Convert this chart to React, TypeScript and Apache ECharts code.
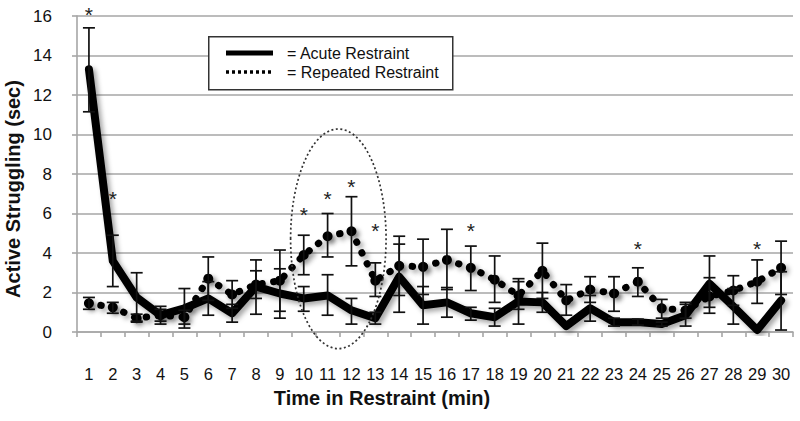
import React, { useEffect, useRef } from "react";
import * as echarts from "echarts";

const minutes = ["1","2","3","4","5","6","7","8","9","10","11","12","13","14","15","16","17","18","19","20","21","22","23","24","25","26","27","28","29","30"];

const acuteMean = [13.3, 3.6, 1.75, 0.85, 1.2, 1.7, 0.95, 2.3, 1.95, 1.7, 1.85, 1.1, 0.7, 2.8, 1.35, 1.5, 0.95, 0.75, 1.55, 1.5, 0.3, 1.2, 0.5, 0.5, 0.4, 0.85, 2.45, 1.3, 0.1, 1.6];
const acuteLow = [11.15, 2.3, 0.5, 0.4, 0.2, 0.85, 0.5, 0.9, 0.7, 1.05, 0.85, 0.4, 0.4, 1.0, 0.4, 0.75, 0.6, 0.3, 0.4, 1.0, null, 0.55, 0.3, 0.35, 0.3, 0.3, 1.25, 0.4, null, 0.1];
const acuteHigh = [15.4, 4.9, 3.0, 1.3, 2.2, 2.55, 1.4, 3.65, 3.2, 2.3, 2.9, 1.7, 1.0, 4.45, 2.3, 2.25, 1.25, 1.2, 2.7, 2.0, null, 1.85, 0.7, 0.65, 0.5, 1.4, 3.85, 2.2, null, 3.05];

const repeatedMean = [1.45, 1.25, 0.7, 0.85, 0.75, 2.7, 1.9, 2.4, 2.6, 3.9, 4.85, 5.1, 2.6, 3.35, 3.3, 3.65, 3.25, 2.65, 1.85, 3.1, 1.6, 2.15, 1.95, 2.55, 1.2, 1.1, 1.8, 2.1, 2.55, 3.25];
const repeatedLow = [1.15, 0.95, 0.55, 0.55, 0.4, 1.6, 1.2, 1.7, 1.05, 2.9, 3.8, 3.35, 1.8, 1.85, 1.9, 2.15, 2.1, 1.5, 1.15, 1.7, 0.85, 1.5, 1.05, 1.8, 0.7, 0.7, 0.95, 1.35, 1.45, 1.9];
const repeatedHigh = [1.75, 1.5, 0.9, 1.15, 1.1, 3.8, 2.6, 3.1, 4.15, 4.9, 6.0, 6.85, 3.5, 4.85, 4.7, 5.2, 4.35, 3.85, 2.55, 4.5, 2.4, 2.8, 2.8, 3.25, 1.65, 1.5, 2.75, 2.85, 3.65, 4.6];

const starMinutes = ["1", "2", "10", "11", "12", "13", "17", "24", "29"];
const starHeights = [16.35, 7.0, 6.2, 7.0, 7.6, 5.4, 5.4, 4.5, 4.5];

// highlighted region (ellipse) around minutes 10-13, in data units
const ellipseCenterMinute = 11.45;
const ellipseCenterValue = 4.72;
const ellipseHalfWidthMinutes = 2.0;
const ellipseHalfHeightValue = 5.56;

const yMin = 0;
const yMax = 16;
const yStep = 2;

const FONT = "'Liberation Sans', Arial, Helvetica, sans-serif";

function errorData(lo: (number | null)[], hi: (number | null)[]) {
  const out: number[][] = [];
  lo.forEach((l, i) => {
    const h = hi[i];
    if (l != null && h != null) out.push([i, l, h]);
  });
  return out;
}

function renderErrorBar(_params: any, api: any) {
  const x = api.value(0);
  const a = api.coord([x, api.value(1)]);
  const b = api.coord([x, api.value(2)]);
  const cap = 6;
  const style = { stroke: "#111", lineWidth: 1.7 };
  return {
    type: "group",
    children: [
      { type: "line", shape: { x1: a[0], y1: a[1], x2: b[0], y2: b[1] }, style },
      { type: "line", shape: { x1: a[0] - cap, y1: a[1], x2: a[0] + cap, y2: a[1] }, style },
      { type: "line", shape: { x1: b[0] - cap, y1: b[1], x2: b[0] + cap, y2: b[1] }, style },
    ],
  };
}

export default function App() {
  const ref = useRef<HTMLDivElement>(null);

  useEffect(() => {
    if (!ref.current) return;
    const chart = echarts.init(ref.current, undefined, { renderer: "svg" });

    const shadow = {
      shadowColor: "rgba(0,0,0,0.35)",
      shadowBlur: 5,
      shadowOffsetX: 3,
      shadowOffsetY: 3,
    };

    const option: any = {
      animation: false,
      backgroundColor: "#fff",
      grid: { left: 77, right: 7, top: 16, bottom: 89, containLabel: false },
      xAxis: {
        type: "category",
        data: minutes,
        boundaryGap: true,
        axisLine: { show: true, lineStyle: { color: "#a6a6a6", width: 1.6 } },
        axisTick: { show: true, alignWithLabel: false, length: 5, lineStyle: { color: "#a6a6a6", width: 1.6 } },
        axisLabel: { interval: 0, margin: 33, fontSize: 16.5, color: "#111", fontFamily: FONT },
        splitLine: { show: false },
      },
      yAxis: {
        type: "value",
        min: yMin,
        max: yMax,
        interval: yStep,
        axisLine: { show: true, lineStyle: { color: "#a6a6a6", width: 1.6 } },
        axisTick: { show: true, length: 5, lineStyle: { color: "#a6a6a6", width: 1.6 } },
        axisLabel: { margin: 25, fontSize: 17, color: "#111", fontFamily: FONT },
        splitLine: { show: true, lineStyle: { color: "#a6a6a6", width: 1.6 } },
      },
      series: [
        {
          name: "Acute Restraint",
          type: "line",
          data: acuteMean,
          symbol: "none",
          z: 3,
          lineStyle: { color: "#000", width: 8, join: "round", cap: "round", ...shadow },
        },
        {
          name: "Repeated Restraint",
          type: "line",
          data: repeatedMean,
          symbol: "circle",
          symbolSize: 10,
          z: 4,
          itemStyle: { color: "#000", borderWidth: 0, ...shadow },
          lineStyle: { color: "#000", width: 7, type: [0.5, 11.5], cap: "round", ...shadow },
        },
        {
          name: "acuteErr",
          type: "custom",
          z: 5,
          clip: false,
          encode: { x: 0, y: [1, 2] },
          data: errorData(acuteLow, acuteHigh),
          renderItem: renderErrorBar,
        },
        {
          name: "repeatedErr",
          type: "custom",
          z: 5,
          clip: false,
          encode: { x: 0, y: [1, 2] },
          data: errorData(repeatedLow, repeatedHigh),
          renderItem: renderErrorBar,
        },
        {
          name: "stars",
          type: "custom",
          z: 6,
          clip: false,
          encode: { x: 0, y: 1 },
          data: starMinutes.map((m, i) => [minutes.indexOf(m), starHeights[i]]),
          renderItem: (_p: any, api: any) => {
            const p = api.coord([api.value(0), api.value(1)]);
            return {
              type: "text",
              x: p[0],
              y: p[1] + 5,
              style: {
                text: "*",
                fontSize: 21,
                fontFamily: FONT,
                fill: "#222",
                align: "center",
                verticalAlign: "middle",
              },
            };
          },
        },
        {
          name: "highlight",
          type: "custom",
          z: 7,
          clip: false,
          silent: true,
          encode: { x: 0, y: 1 },
          data: [[Math.floor(ellipseCenterMinute) - 1, ellipseCenterValue]],
          renderItem: (_p: any, api: any) => {
            const base = Math.floor(ellipseCenterMinute) - 1;
            const frac = ellipseCenterMinute - Math.floor(ellipseCenterMinute);
            const p0 = api.coord([base, ellipseCenterValue]);
            const p1 = api.coord([base + 1, ellipseCenterValue]);
            const band = p1[0] - p0[0];
            const cx = p0[0] + frac * band;
            const cy = p0[1];
            const unit = api.size([0, 1])[1];
            return {
              type: "ellipse",
              shape: {
                cx,
                cy,
                rx: ellipseHalfWidthMinutes * band,
                ry: ellipseHalfHeightValue * unit,
              },
              style: { fill: "none", stroke: "#333", lineWidth: 1.7, lineDash: [2, 2.5] },
            };
          },
        },
      ],
      graphic: [
        {
          type: "rect",
          left: 208,
          top: 36,
          z: 100,
          shape: { x: 0, y: 0, width: 244, height: 53 },
          style: { fill: "#fff", stroke: "#333", lineWidth: 1.5 },
        },
        {
          type: "line",
          z: 101,
          shape: { x1: 226, y1: 53, x2: 273, y2: 53 },
          style: { stroke: "#000", lineWidth: 5 },
        },
        {
          type: "line",
          z: 101,
          shape: { x1: 226, y1: 72, x2: 273, y2: 72 },
          style: { stroke: "#000", lineWidth: 3.5, lineDash: [3, 3] },
        },
        {
          type: "text",
          z: 101,
          x: 287,
          y: 53,
          style: { text: "= Acute Restraint", fontSize: 16, fontFamily: FONT, fill: "#111", align: "left", verticalAlign: "middle" },
        },
        {
          type: "text",
          z: 101,
          x: 287,
          y: 72,
          style: { text: "= Repeated Restraint", fontSize: 16, fontFamily: FONT, fill: "#111", align: "left", verticalAlign: "middle" },
        },
        {
          type: "text",
          z: 101,
          x: 382,
          y: 398,
          style: { text: "Time in Restraint (min)", fontSize: 20, fontWeight: "bold", fontFamily: FONT, fill: "#111", align: "center", verticalAlign: "middle" },
        },
        {
          type: "text",
          z: 101,
          x: 13,
          y: 189,
          rotation: Math.PI / 2,
          style: { text: "Active Struggling (sec)", fontSize: 20, fontWeight: "bold", fontFamily: FONT, fill: "#111", align: "center", verticalAlign: "middle" },
        },
      ],
    };

    chart.setOption(option);
    return () => chart.dispose();
  }, []);

  return <div ref={ref} style={{ width: 800, height: 421, position: "absolute", left: 0, top: 0, background: "#fff" }} />;
}
